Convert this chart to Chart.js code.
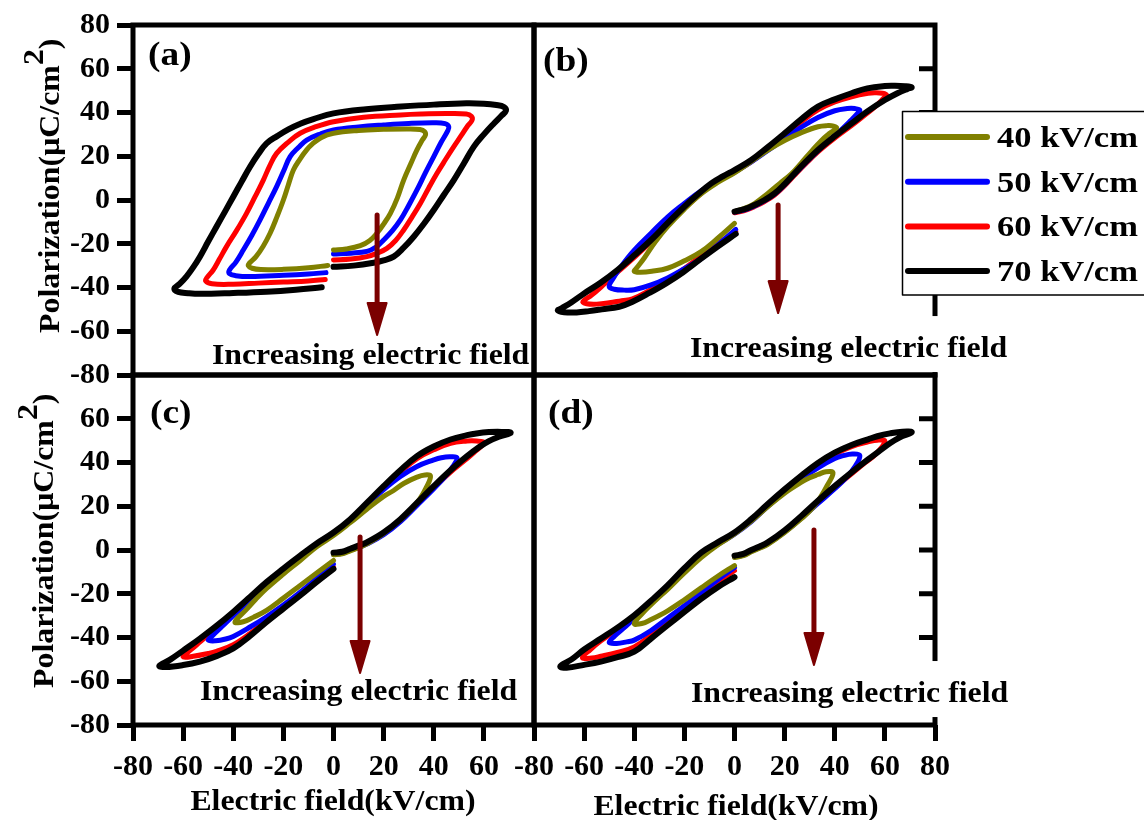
<!DOCTYPE html>
<html><head><meta charset="utf-8">
<script src="https://cdn.jsdelivr.net/npm/chart.js@4.4.0/dist/chart.umd.min.js"></script>
<style>
html,body{margin:0;padding:0;background:#fff;}
#wrap{position:relative;width:1144px;height:820px;overflow:hidden;background:#fff;}
canvas{position:absolute;left:0;top:0;}
</style></head><body><div id="wrap">
<canvas id="pa" width="1144" height="820"></canvas>
<canvas id="pb" width="1144" height="820"></canvas>
<canvas id="pc" width="1144" height="820"></canvas>
<canvas id="pd" width="1144" height="820"></canvas>
</div>
<script>
// ---------- data ----------
const axisTicks = [-80,-60,-40,-20,0,20,40,60,80];
const innerTicks = [-60,-40,-20,0,20,40,60];
const seriesLabels = ['40 kV/cm','50 kV/cm','60 kV/cm','70 kV/cm'];
const seriesColors = ['#808000','#0000ff','#ff0000','#000000'];

// panel (a)  [E (kV/cm), P (uC/cm2)]
const a40 = [[0,-22.9],[5,-22.4],[10.7,-20.9],[14.5,-18.5],[17.3,-15.2],[20,-11],[22.7,-6.1],[25.5,1],[28,9.1],[31,17],[33.3,22.9],[35.5,27.5],[36.7,29.7],[36.3,31.3],[34.5,32.2],[30,32.5],[20,32.3],[10,31.8],[0,30.5],[-5,28.5],[-8.5,25.5],[-10.7,22.9],[-13.5,18.5],[-16,13.7],[-18,7],[-20,0],[-22.5,-7.5],[-25.3,-15.2],[-28,-21],[-31,-26],[-33.5,-28.8],[-34,-30],[-32.5,-31.2],[-29,-31.8],[-20,-31.7],[-10,-31],[-2.3,-29.9]];
const a50 = [[0,-24.7],[7,-24.3],[13.3,-23.5],[17,-21.5],[20,-18.3],[23.5,-14],[26.7,-9.1],[30,-2.5],[33.3,4.6],[36.7,12.5],[40,19.8],[43,26.5],[45.5,31.5],[46,33.5],[44.5,34.9],[40,35.3],[30,35],[20,34.3],[10,33.4],[0,32],[-5,30.3],[-10.7,27.4],[-14,24],[-17.3,19.8],[-20,13],[-22.7,6.1],[-26,-1.5],[-29.3,-9.1],[-32.5,-16],[-36,-22.9],[-39,-28.5],[-41.5,-32],[-41.5,-33.7],[-39,-34.6],[-33.3,-35],[-20,-34.4],[-10,-33.8],[-3,-33.2]];
const a60 = [[0,-27.4],[7,-27],[13.3,-25.9],[17.5,-24.3],[21.3,-22.1],[24.8,-18.5],[28,-13.7],[31.5,-7.5],[34.7,-1.5],[38,5.5],[41.3,12.2],[44.7,18.5],[48,24.4],[51,29.5],[53.3,33.5],[55.3,36.5],[55,38.3],[53,39.3],[45,39.5],[35,39.3],[26.7,38.9],[12,37.8],[0,35.8],[-7,33.5],[-13.3,30.5],[-18,26.5],[-22.7,21.3],[-25.5,15.5],[-28,9.1],[-31.3,1.5],[-34.7,-6.1],[-38.7,-14],[-42.7,-21.3],[-45.5,-27],[-48,-32],[-50.5,-35.5],[-51,-37],[-48.5,-38.3],[-40,-38.5],[-30,-38],[-20,-37.5],[-10,-37],[-3.3,-36.3]];
const a70 = [[0,-30.5],[8,-30],[16,-28.7],[20,-27.6],[24,-25.9],[28,-21.8],[32,-16.8],[36,-11],[40,-4.6],[44,2.3],[48,9.1],[52,16.7],[56,24.4],[60,30],[64,35],[67,38.5],[68.8,40.8],[68,42.5],[65,43.4],[60,44],[53,44.2],[40,43.6],[27,42.7],[13,41.5],[0,39.6],[-8,37],[-13,35],[-18,32.3],[-22.5,29.2],[-26.7,25.9],[-30,21],[-33.3,15.2],[-36.7,8.3],[-40,1.5],[-43.3,-5.3],[-46.7,-12.2],[-50,-19],[-53.3,-25.9],[-56,-30.8],[-58.7,-35],[-61.5,-38.5],[-63.5,-40.5],[-62,-42],[-58,-42.6],[-53.3,-42.9],[-40,-42.5],[-26.7,-41.9],[-15,-41],[-4.7,-39.9]];

// panel (b)
const b40 = [[0,-5.3],[4,-3.8],[8,-1.6],[13.3,3],[18,7.5],[22.7,12],[26.7,17],[30.5,22],[34.7,27.2],[38,30.5],[40.7,32.8],[39.5,33.8],[37,34],[33.3,33.5],[26.7,30.8],[20,27.2],[13.3,22.8],[6.7,17.6],[0,12.4],[-6.7,8],[-13.3,2.8],[-20,-4.2],[-26.7,-12.2],[-31.5,-19],[-36,-26.5],[-39,-31],[-40,-32.6],[-37.5,-33],[-33,-32.6],[-26.7,-31.2],[-20,-27.8],[-13.3,-23.6],[-6.7,-17.5],[0,-10.7]];
const b50 = [[0,-5.5],[4,-4.5],[8,-2.7],[12,-0.3],[16,2.7],[20,7],[24,11.9],[28.5,17.2],[33.3,22.6],[38,27.5],[42.5,32],[46.5,36.5],[49,39.5],[50,41.1],[48,41.8],[45,41.8],[40,40.8],[33.3,37.7],[26.7,33.3],[20,28],[13.3,22.6],[6.7,17.4],[0,12.7],[-6.7,8.6],[-13.3,4.2],[-20,-1.6],[-26.7,-7.8],[-33.3,-15.2],[-40,-22.9],[-45,-30],[-48.5,-36],[-50,-39.6],[-48,-40.8],[-44,-41.2],[-40,-41],[-33.3,-38.8],[-26.7,-35.6],[-20,-31.4],[-13.3,-26.8],[-6.7,-20.5],[0.5,-13.4]];
const b60 = [[0,-5.8],[4,-4.8],[8,-3],[12,-0.7],[16,2.3],[20,6.5],[24,11.4],[28.5,16.7],[33.3,22],[40,28.3],[46.7,34],[52,38.8],[56.5,43],[59.5,46.5],[60.7,48],[59,48.8],[56,49],[53.3,48.8],[46.7,47.2],[40,44.8],[33.3,41.2],[26.7,35.8],[20,29.6],[13.3,23.4],[6.7,17.5],[0,12.9],[-4.5,10.1],[-9.3,6.8],[-14.5,1.9],[-20,-3.8],[-26.7,-11.4],[-33.3,-19.1],[-40,-26.2],[-46.7,-33],[-52,-38.5],[-57,-43.5],[-60.5,-46.5],[-59,-47.4],[-55,-47.6],[-50,-47],[-45,-46],[-40.7,-45.2],[-34,-41.3],[-27.3,-36.9],[-20.5,-31.8],[-14,-26.2],[-7,-20.3],[0.5,-14.3]];
const b70 = [[0,-5.3],[4,-4.2],[8,-2.3],[12,0],[16,3],[20,7.3],[24,12.2],[28.5,17.5],[33.3,22.9],[40,29.2],[46.7,35],[53,40.5],[60,45.7],[65,48.8],[69,50.8],[70.7,51.5],[68,52],[64,52.2],[60,52.1],[53,51],[46.7,48.8],[40,46],[33.3,42.7],[26.7,37],[20,30.5],[13.3,24.2],[6.7,18.3],[0,13.7],[-4.5,10.9],[-9.3,7.6],[-14.5,2.7],[-20,-3],[-26.7,-10.6],[-33.3,-18.3],[-40,-25.3],[-46.7,-32],[-53.3,-37.7],[-60,-42.7],[-65,-46.7],[-69,-49.5],[-70.5,-50.5],[-68,-51.3],[-63,-51.4],[-58,-50.8],[-53,-50],[-46,-48.8],[-40.7,-46.5],[-34,-42.5],[-27.3,-38.1],[-20.5,-33],[-14,-27.4],[-7,-21.5],[0.5,-15.5]];

// panel (c)
const c40 = [[0,-2.2],[3.5,-1.7],[6.7,-0.4],[10,1],[13.3,2.8],[20,7.6],[26.7,13.8],[31,18.5],[34.5,23.5],[37,28.5],[38.7,33.8],[36.5,34.3],[33.3,33.3],[28,30.4],[24,27.2],[20,24.5],[13.3,18.6],[6.7,12.5],[0,6.6],[-6.7,1.5],[-13.3,-4.8],[-20,-11],[-26.7,-17.6],[-31,-22.5],[-35,-27.5],[-39.3,-32.9],[-36,-32.8],[-32,-30.8],[-26.7,-27.6],[-20,-22],[-13.3,-16.2],[-6.7,-10.5],[0,-4.8]];
const c50 = [[0,-2],[3.5,-1.5],[6.7,-0.1],[10,1.2],[13.3,2.7],[20,7],[26.7,13],[33.3,20.4],[40,28],[44.5,33.5],[47.5,38],[49.3,42.1],[46.5,42.6],[43,42.2],[40,41.2],[33.3,38.2],[26.7,33.6],[20,27.6],[13.3,20.6],[6.7,13.4],[0,7.3],[-6.7,2.2],[-13.3,-3.5],[-20,-9.6],[-26.7,-16],[-33.3,-23],[-40,-30],[-44.5,-35],[-48,-38.8],[-50,-41.2],[-47,-41.5],[-43,-40.7],[-40,-39.5],[-33.3,-35.2],[-26.7,-30.5],[-20,-25.2],[-13.3,-19.3],[-6.7,-13],[0,-6.5]];
const c60 = [[0,-1.6],[3.5,-1.2],[6.7,0.2],[10,1.5],[13.3,3],[20,7.4],[26.7,13.4],[33.3,20.8],[40,28.4],[46.7,35.6],[52,40.6],[56,44.5],[60,49],[57,49.8],[53.3,49.8],[46.7,48.8],[40,45.8],[33.3,41.8],[26.7,35.6],[20,28.5],[13.3,21],[6.7,13.7],[0,7.6],[-6.7,2.6],[-13.3,-3],[-20,-9],[-26.7,-15.3],[-33.3,-22.2],[-40,-29],[-46.7,-35.6],[-53,-41.8],[-57,-45.7],[-60,-48.8],[-56,-48.6],[-50,-47.3],[-46.7,-46.3],[-40,-43.3],[-33.3,-38.2],[-26.7,-32.1],[-20,-26.1],[-13.3,-20.2],[-6.7,-14],[0,-7.8]];
const c70 = [[0,-1.2],[3.5,-0.8],[6.7,0.6],[10,2],[13.3,3.5],[20,8],[26.7,14.1],[33.3,21.5],[40,29.2],[46.7,36.5],[53.3,42.9],[58,47],[62,49.8],[66,51.8],[70.7,53.6],[67,54],[62,53.9],[57,53.3],[53.3,52.5],[46.7,50.5],[40,47.3],[33.3,42.9],[26.7,36.5],[20,29.2],[13.3,21.5],[6.7,14.1],[0,8],[-6.7,3],[-13.3,-2.6],[-20,-8.5],[-26.7,-14.7],[-33.3,-21.5],[-40,-28.3],[-46.7,-34.7],[-53.3,-40.5],[-60,-46],[-65,-50],[-69.5,-53],[-67,-53.5],[-60,-52.6],[-53.3,-51],[-46.7,-48.5],[-40,-45],[-33.3,-39.3],[-26.7,-32.9],[-20,-26.8],[-13.3,-20.8],[-6.7,-14.6],[0,-8.6]];

// panel (d)
const d40 = [[0,-3.4],[3.5,-2.6],[6.7,-0.8],[10,0.8],[13.3,2.6],[20,8],[26.7,14.3],[31,19],[34.5,24.5],[37,29.5],[39.3,35.3],[36.5,35.8],[33.3,34.5],[30,33],[26.7,31],[20,26],[13.3,19.8],[6.7,13.2],[0,7.3],[-6.7,2.3],[-13.3,-3.5],[-20,-10.5],[-26.7,-18],[-31,-22.5],[-35.5,-27.5],[-40,-33.6],[-37,-33.6],[-33.3,-31.8],[-26.7,-27.8],[-20,-22.8],[-13.3,-17.3],[-6.7,-12],[0,-7.1]];
const d50 = [[0,-3.2],[3.5,-2.4],[6.7,-0.6],[10,1],[13.3,2.8],[20,8.2],[26.7,14.6],[33.3,21.3],[40,28],[44.5,33],[48,38],[50,43.2],[47,43.9],[43,43],[40,41.8],[33.3,37.6],[26.7,32.6],[20,26.5],[13.3,19.9],[6.7,13],[0,7.2],[-6.7,2.5],[-13.3,-2.5],[-20,-9.5],[-26.7,-17.4],[-33.3,-24.5],[-40,-31.3],[-44.5,-36],[-48,-39.5],[-50,-42.3],[-47,-42.7],[-43,-42],[-40,-41.2],[-33.3,-36.8],[-26.7,-31.2],[-20,-25.5],[-13.3,-19.5],[-6.7,-13.6],[0,-8]];
const d60 = [[0,-3],[3.5,-2.2],[6.7,-0.4],[10,1.2],[13.3,3.1],[20,8.5],[26.7,15],[33.3,21.8],[40,28.5],[46.7,34.8],[52,39.8],[56.5,44],[60,49.7],[57,50.2],[53.3,49.4],[46.7,47.3],[40,43.8],[33.3,39.2],[26.7,33.4],[20,27.1],[13.3,20.5],[6.7,13.6],[0,7.6],[-6.7,3],[-13.3,-1.8],[-20,-8.9],[-26.7,-16.8],[-33.3,-23.8],[-40,-30.5],[-46.7,-36.2],[-53.3,-41.5],[-57.5,-45.5],[-60.7,-49.2],[-57,-49.4],[-53.3,-48.6],[-46.7,-46.8],[-40,-44.3],[-33.3,-38.9],[-26.7,-32.8],[-20,-26.6],[-13.3,-20.4],[-6.7,-14.7],[0,-9.4]];
const d70 = [[0,-2.6],[3.5,-1.8],[6.7,0],[10,1.6],[13.3,3.5],[20,9],[26.7,15.6],[33.3,22.5],[40,29.2],[46.7,35.5],[53.3,41.4],[58,45.4],[62,48.8],[66,51.5],[70.7,53.8],[67,54.1],[62,53.3],[57,52],[53.3,50.6],[46.7,48],[40,44.5],[33.3,39.8],[26.7,34],[20,27.7],[13.3,21],[6.7,14.1],[0,8],[-6.7,3.5],[-13.3,-1.2],[-20,-8.3],[-26.7,-16.2],[-33.3,-23.2],[-40,-29.9],[-46.7,-35.5],[-53.3,-40.5],[-60,-45.5],[-65,-50],[-69.5,-53.2],[-67,-53.8],[-60,-52.5],[-53.3,-51],[-46.7,-49],[-40,-46.5],[-33.3,-40.5],[-26.7,-34.4],[-20,-28.3],[-13.3,-22.3],[-6.7,-17],[0,-12.4]];

// annotation anchors in data units
const arrowA = [17.4, -6.9, -61.7], arrowB = [17.4, -2.3, -51.7], arrowC = [10.6, 5.9, -56.2], arrowD = [31.7, 9.1, -52.6];
const noteA = [-48.5, -75], noteB = [-17.8, -71.8], noteC = [-53.3, -68.6], noteD = [-17.4, -69.5];
const noteText = 'Increasing electric field';
const xTitle = 'Electric field(kV/cm)';

// ---------- drawing ----------
const FONT = '"Liberation Serif","Times New Roman",Times,serif';
const ARROW = '#7b0000';

function sText(ctx, str, x, y, size, sx, align) {
  ctx.save();
  ctx.font = 'bold ' + size + 'px ' + FONT;
  ctx.textBaseline = 'alphabetic';
  ctx.textAlign = 'left';
  ctx.fillStyle = '#000';
  const w = ctx.measureText(str).width * sx;
  const x0 = align === 'center' ? x - w / 2 : x;
  ctx.translate(x0, y);
  ctx.scale(sx, 1);
  ctx.fillText(str, 0, 0);
  ctx.restore();
  return w;
}
function yTitle(ctx, baseX, startY) {
  ctx.save();
  ctx.translate(baseX, startY);
  ctx.rotate(-Math.PI / 2);
  ctx.scale(1.1, 1);
  ctx.font = 'bold 29px ' + FONT;
  ctx.fillStyle = '#000';
  ctx.textBaseline = 'alphabetic';
  const t1 = 'Polarization(\u03bcC/cm';
  ctx.fillText(t1, 0, 0);
  let w = ctx.measureText(t1).width;
  ctx.fillText('2', w, -16);
  w += ctx.measureText('2').width;
  ctx.fillText(')', w, 0);
  ctx.restore();
}

const panelCfg = {
  pa: {label: '(a)', lab: [148, 65], arrow: arrowA, note: noteA, noteBg: false, rightTicks: false, yTitle: [59, 333]},
  pb: {label: '(b)', lab: [543, 71], arrow: arrowB, note: noteB, noteBg: true, rightTicks: true, legend: true},
  pc: {label: '(c)', lab: [150, 423], arrow: arrowC, note: noteC, noteBg: false, rightTicks: false, yTitle: [53, 688], xTitle: [333, 810]},
  pd: {label: '(d)', lab: [548, 423], arrow: arrowD, note: noteD, noteBg: true, rightTicks: true, xTitle: [736, 815]}
};

const deco = {
  id: 'deco',
  afterDraw(chart) {
    const cfg = panelCfg[chart.canvas.id];
    const ctx = chart.ctx, ca = chart.chartArea;
    const xs = chart.scales.x, ys = chart.scales.y;
    ctx.save();
    ctx.strokeStyle = '#000';
    ctx.lineWidth = 5;
    ctx.lineJoin = 'miter';
    ctx.lineCap = 'butt';
    ctx.strokeRect(ca.left, ca.top, ca.right - ca.left, ca.bottom - ca.top);
    if (cfg.rightTicks) {
      ctx.beginPath();
      for (const v of innerTicks) {
        const y = ys.getPixelForValue(v);
        ctx.moveTo(ca.right - 16, y); ctx.lineTo(ca.right, y);
      }
      ctx.stroke();
    }
    sText(ctx, cfg.label, cfg.lab[0], cfg.lab[1], 34, 1.1, 'left');
    const nx = xs.getPixelForValue(cfg.note[0]), ny = ys.getPixelForValue(cfg.note[1]);
    if (cfg.noteBg) {
      ctx.font = 'bold 30px ' + FONT;
      const w = ctx.measureText(noteText).width * 1.06;
      ctx.fillStyle = '#fff';
      ctx.fillRect(nx - 4, ny - 41, w + 8, 56);
    }
    sText(ctx, noteText, nx, ny, 30, 1.06, 'left');
    const ax = xs.getPixelForValue(cfg.arrow[0]);
    const ay0 = ys.getPixelForValue(cfg.arrow[1]);
    const ay1 = ys.getPixelForValue(cfg.arrow[2]);
    ctx.strokeStyle = ARROW; ctx.fillStyle = ARROW;
    ctx.lineWidth = 5; ctx.lineCap = 'round';
    ctx.beginPath(); ctx.moveTo(ax, ay0); ctx.lineTo(ax, ay1 - 28); ctx.stroke();
    ctx.lineJoin = 'round'; ctx.lineWidth = 2;
    ctx.beginPath(); ctx.moveTo(ax - 9.5, ay1 - 32); ctx.lineTo(ax + 9.5, ay1 - 32); ctx.lineTo(ax, ay1); ctx.closePath();
    ctx.fill(); ctx.stroke();
    if (cfg.yTitle) yTitle(ctx, cfg.yTitle[0], cfg.yTitle[1]);
    if (cfg.xTitle) sText(ctx, xTitle, cfg.xTitle[0], cfg.xTitle[1], 30, 1.06, 'center');
    if (cfg.legend) {
      ctx.fillStyle = '#fff';
      ctx.fillRect(902.5, 111.5, 260, 183.5);
      ctx.strokeStyle = '#000'; ctx.lineWidth = 1.5;
      ctx.strokeRect(902.5, 111.5, 260, 183.5);
      seriesLabels.forEach((lab, i) => {
        const y = 137 + i * 44.7;
        ctx.strokeStyle = seriesColors[i];
        ctx.lineWidth = 6; ctx.lineCap = 'round';
        ctx.beginPath(); ctx.moveTo(908, y); ctx.lineTo(987, y); ctx.stroke();
        sText(ctx, lab, 997, y + 10, 30, 1.15, 'left');
      });
    }
    ctx.restore();
  }
};

function toXY(arr) { return arr.map(p => ({x: p[0], y: p[1]})); }
function tickFont() { return {family: FONT, size: 30, weight: 'bold'}; }

function makeChart(id, series, opt) {
  const order = [3, 0, 1, 2];
  const datasets = order.map(i => ({
    label: seriesLabels[i],
    data: toXY(series[i]),
    borderColor: seriesColors[i],
    backgroundColor: seriesColors[i],
    borderWidth: i === 3 ? 6 : 5,
    showLine: true,
    pointRadius: 0,
    tension: 0.4,
    fill: false,
    borderCapStyle: 'round',
    borderJoinStyle: 'round'
  }));
  const gridOpt = {display: true, drawOnChartArea: false, drawTicks: true, tickLength: 16, tickWidth: 5, tickColor: '#000', color: '#000'};
  new Chart(document.getElementById(id), {
    type: 'scatter',
    data: {datasets},
    options: {
      responsive: false, animation: false, events: [], devicePixelRatio: 1,
      layout: {padding: opt.padding},
      plugins: {legend: {display: false}, tooltip: {enabled: false}},
      scales: {
        x: {
          type: 'linear', min: -80, max: 80, position: 'bottom', display: opt.showX,
          afterBuildTicks: s => { s.ticks = axisTicks.map(v => ({value: v})); },
          afterFit: s => { s.height = opt.showX ? 95 : 0; },
          grid: gridOpt, border: {display: false},
          ticks: {font: tickFont(), color: '#000', padding: 8, maxRotation: 0, autoSkip: false,
                  callback: v => (opt.hideX80 && v === 80) ? '' : String(v)}
        },
        y: {
          type: 'linear', min: -80, max: 80, position: 'left', display: opt.showY,
          afterBuildTicks: s => { s.ticks = axisTicks.map(v => ({value: v})); },
          afterFit: s => { s.width = opt.showY ? 133 : 0; },
          grid: gridOpt, border: {display: false},
          ticks: {font: tickFont(), color: '#000', padding: 7, autoSkip: false,
                  callback: v => (opt.hideY80 && v === 80) ? '' : String(v)}
        }
      }
    },
    plugins: [deco]
  });
}

makeChart('pa', [a40, a50, a60, a70], {padding: {left: 0, top: 25, right: 610, bottom: 445}, showX: false, showY: true});
makeChart('pb', [b40, b50, b60, b70], {padding: {left: 534, top: 25, right: 209, bottom: 445}, showX: false, showY: false});
makeChart('pc', [c40, c50, c60, c70], {padding: {left: 0, top: 375, right: 610, bottom: 0}, showX: true, showY: true, hideX80: true, hideY80: true});
makeChart('pd', [d40, d50, d60, d70], {padding: {left: 534, top: 375, right: 209, bottom: 0}, showX: true, showY: false});
</script>
</body></html>
